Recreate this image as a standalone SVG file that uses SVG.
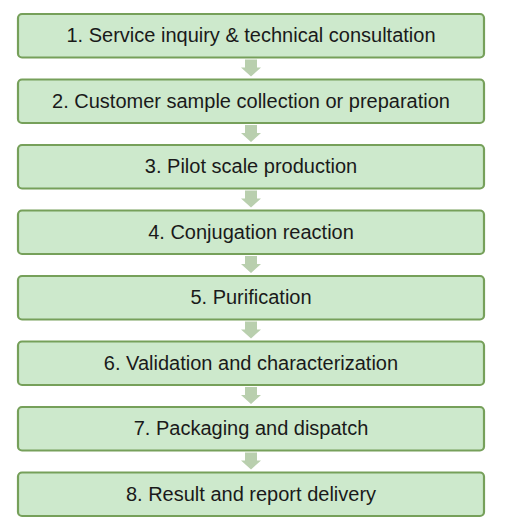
<svg xmlns="http://www.w3.org/2000/svg" width="505" height="531" viewBox="0 0 505 531">
<style>
.box{fill:#cde9cc;stroke:#76a05a;stroke-width:2.2}
.lbl{font-family:"Liberation Sans",Arial,sans-serif;font-size:20px;fill:#1a1a1a;text-anchor:middle;dominant-baseline:central}
.arr{fill:#b9cfae}
</style>
<defs>
<path id="ar" class="arr" d="M-6,0 H6 V8 H10 L0,17 L-10,8 H-6 Z"/>
</defs>
<rect width="505" height="531" fill="#ffffff"/>
<g id="connectors">
<use href="#ar" x="251" y="59.5"/>
<use href="#ar" x="251" y="125"/>
<use href="#ar" x="251" y="190.5"/>
<use href="#ar" x="251" y="256"/>
<use href="#ar" x="251" y="321.5"/>
<use href="#ar" x="251" y="387"/>
<use href="#ar" x="251" y="452.5"/>
</g>
<g id="n1"><rect class="box" x="18" y="14" width="466" height="43.5" rx="4"/><text class="lbl" x="251" y="35">1. Service inquiry &amp; technical consultation</text></g>
<g id="n2"><rect class="box" x="18" y="79.5" width="466" height="43.5" rx="4"/><text class="lbl" x="251" y="100.5">2. Customer sample collection or preparation</text></g>
<g id="n3"><rect class="box" x="18" y="145" width="466" height="43.5" rx="4"/><text class="lbl" x="251" y="166">3. Pilot scale production</text></g>
<g id="n4"><rect class="box" x="18" y="210.5" width="466" height="43.5" rx="4"/><text class="lbl" x="251" y="231.5">4. Conjugation reaction</text></g>
<g id="n5"><rect class="box" x="18" y="276" width="466" height="43.5" rx="4"/><text class="lbl" x="251" y="297">5. Purification</text></g>
<g id="n6"><rect class="box" x="18" y="341.5" width="466" height="43.5" rx="4"/><text class="lbl" x="251" y="362.5">6. Validation and characterization</text></g>
<g id="n7"><rect class="box" x="18" y="407" width="466" height="43.5" rx="4"/><text class="lbl" x="251" y="428">7. Packaging and dispatch</text></g>
<g id="n8"><rect class="box" x="18" y="472.5" width="466" height="43.5" rx="4"/><text class="lbl" x="251" y="493.5">8. Result and report delivery</text></g>
</svg>
